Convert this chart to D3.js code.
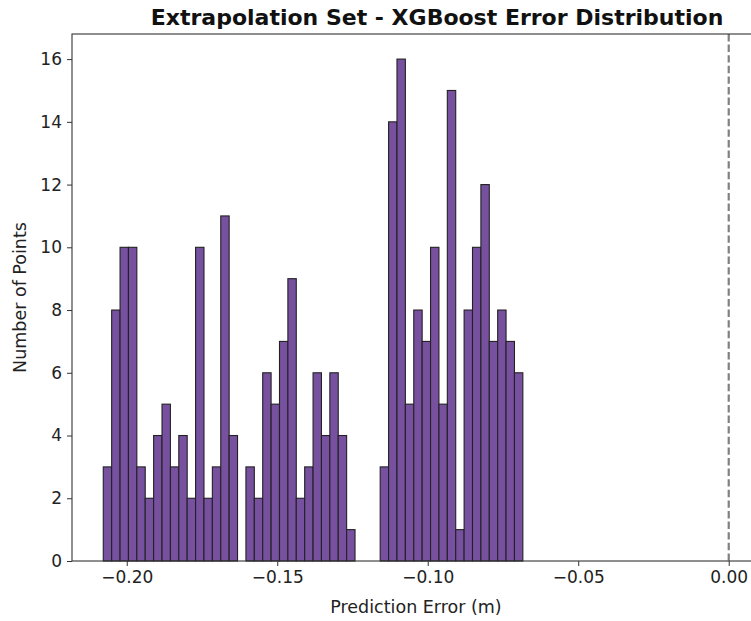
<!DOCTYPE html>
<html>
<head>
<meta charset="utf-8">
<script src="https://cdn.jsdelivr.net/npm/d3@7/dist/d3.min.js"></script>
<style>
  html, body { margin: 0; padding: 0; background: #fff; overflow: hidden; }
  svg { display: block; font-family: "DejaVu Sans", sans-serif; }
</style>
</head>
<body>
<svg id="chart" width="751" height="621"></svg>
<script>
// Histogram data (50 equal-width bins)
const binLow = -0.2078;
const binHigh = -0.0684;
const counts = [3, 8, 10, 10, 3, 2, 4, 5, 3, 4, 2, 10, 2, 3, 11, 4, 0, 3, 2, 6,
                5, 7, 9, 2, 3, 6, 4, 6, 4, 1, 0, 0, 0, 3, 14, 16, 5, 8, 7, 10,
                5, 15, 1, 8, 10, 12, 7, 8, 7, 6];
const xTicks = [-0.20, -0.15, -0.10, -0.05, 0.00];
const yTicks = [0, 2, 4, 6, 8, 10, 12, 14, 16];
const refLine = [0];
const title = "Extrapolation Set - XGBoost Error Distribution";
const xLabel = "Prediction Error (m)";
const yLabel = "Number of Points";

const margin = {left: 72, top: 34, right: 760, bottom: 561};
const svg = d3.select("#chart");

const nb = counts.length;
const bw = (binHigh - binLow) / nb;
const bins = counts.map((c, i) => ({x0: binLow + i * bw, x1: binLow + (i + 1) * bw, n: c}));

const dataMin = binLow, dataMax = 0;
const pad = (dataMax - dataMin) * 0.05;
const x = d3.scaleLinear().domain([dataMin - pad, dataMax + pad]).range([margin.left, margin.right]);
const y = d3.scaleLinear().domain([0, d3.max(counts) * 1.05]).range([margin.bottom, margin.top]);

// bars
svg.append("g").selectAll("rect").data(bins.filter(b => b.n > 0)).join("rect")
  .attr("x", d => x(d.x0))
  .attr("y", d => y(d.n))
  .attr("width", d => x(d.x1) - x(d.x0))
  .attr("height", d => y(0) - y(d.n))
  .attr("fill", "#77509f")
  .attr("stroke", "#222")
  .attr("stroke-width", 1.1);

// reference line
svg.append("g").selectAll("line").data(refLine).join("line")
  .attr("x1", d => x(d)).attr("x2", d => x(d))
  .attr("y1", margin.top).attr("y2", margin.bottom)
  .attr("stroke", "#808080")
  .attr("stroke-width", 2.2)
  .attr("stroke-dasharray", "7.4,3.2");

// axes
const fmt = d3.format(".2f");
const xAxis = svg.append("g").attr("transform", `translate(0,${margin.bottom})`)
  .call(d3.axisBottom(x).tickValues(xTicks).tickFormat(fmt).tickSizeOuter(0).tickSize(5).tickPadding(5));
const yAxis = svg.append("g").attr("transform", `translate(${margin.left},0)`)
  .call(d3.axisLeft(y).tickValues(yTicks).tickFormat(d3.format("d")).tickSizeOuter(0).tickSize(5).tickPadding(5));
[xAxis, yAxis].forEach(a => {
  a.select(".domain").remove();
  a.selectAll("line").attr("stroke", "#333").attr("stroke-width", 1);
  a.selectAll("text").attr("fill", "#222").attr("font-size", 17).attr("font-family", "DejaVu Sans, sans-serif");
});

// spines
const spine = svg.append("g").attr("fill", "none").attr("stroke", "#333").attr("stroke-width", 1.1);
spine.append("rect")
  .attr("x", margin.left).attr("y", margin.top)
  .attr("width", margin.right - margin.left).attr("height", margin.bottom - margin.top);

// labels
svg.append("text")
  .attr("x", 437).attr("y", 25)
  .attr("text-anchor", "middle").attr("font-size", 22).attr("font-weight", "bold").attr("fill", "#111")
  .text(title);
svg.append("text")
  .attr("x", 416).attr("y", 613)
  .attr("text-anchor", "middle").attr("font-size", 17.5).attr("fill", "#222")
  .text(xLabel);
svg.append("text")
  .attr("transform", `translate(26,${(margin.top + margin.bottom) / 2}) rotate(-90)`)
  .attr("text-anchor", "middle").attr("font-size", 17.5).attr("fill", "#222")
  .text(yLabel);
</script>
</body>
</html>
